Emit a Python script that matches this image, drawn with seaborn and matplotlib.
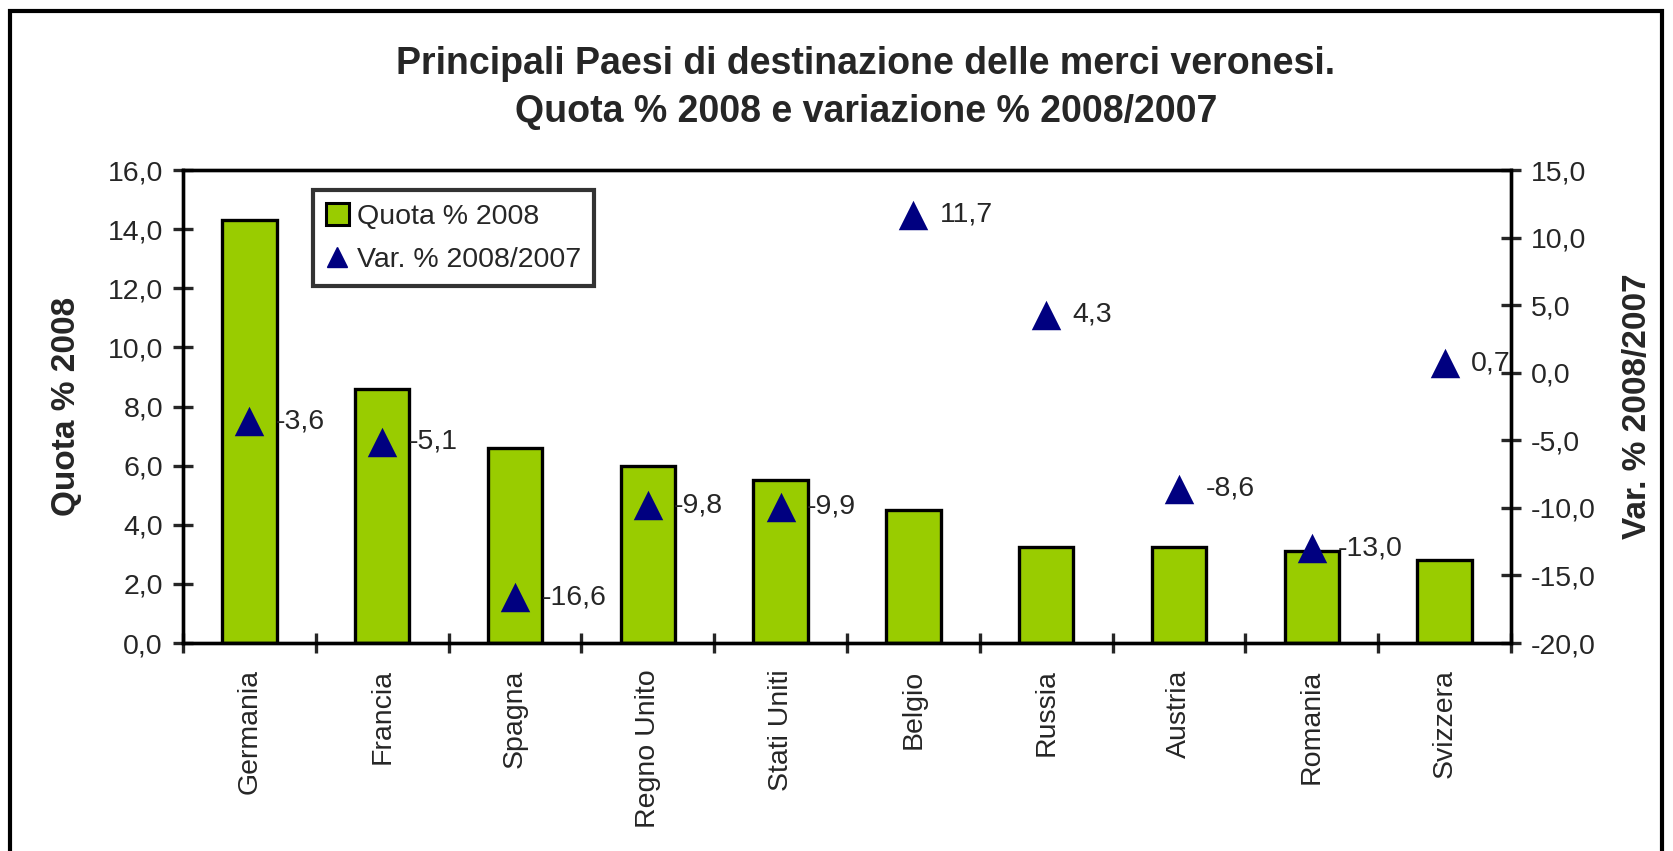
import numpy as np
import pandas as pd
import seaborn as sns
import matplotlib.pyplot as plt
from matplotlib.lines import Line2D
from matplotlib.patches import Patch, Rectangle
from matplotlib.ticker import FixedLocator

# Data
paesi = ['Germania', 'Francia', 'Spagna', 'Regno Unito', 'Stati Uniti',
         'Belgio', 'Russia', 'Austria', 'Romania', 'Svizzera']
quota_2008 = [14.3, 8.6, 6.6, 6.0, 5.5, 4.5, 3.25, 3.25, 3.1, 2.8]
var_2008_2007 = [-3.6, -5.1, -16.6, -9.8, -9.9, 11.7, 4.3, -8.6, -13.0, 0.7]
var_labels = ['-3,6', '-5,1', '-16,6', '-9,8', '-9,9', '11,7', '4,3', '-8,6', '-13,0', '0,7']

left_ticks = [0, 2, 4, 6, 8, 10, 12, 14, 16]
left_labels = ['0,0', '2,0', '4,0', '6,0', '8,0', '10,0', '12,0', '14,0', '16,0']
right_ticks = [-20, -15, -10, -5, 0, 5, 10, 15]
right_labels = ['-20,0', '-15,0', '-10,0', '-5,0', '0,0', '5,0', '10,0', '15,0']

df = pd.DataFrame({'Paese': paesi, 'Quota': quota_2008, 'Var': var_2008_2007})

sns.set_style('white')
plt.rcParams['font.family'] = ['Liberation Sans', 'DejaVu Sans']

verde = '#99CC00'
blu = '#000080'

fig = plt.figure(figsize=(16.73, 8.51), dpi=100)
ax = fig.add_axes([0.1094, 0.2444, 0.7938, 0.5558])

sns.barplot(data=df, x='Paese', y='Quota', color=verde, width=0.41,
            edgecolor='black', linewidth=2.4, saturation=1, ax=ax)
ax.set_xlim(-0.5, len(paesi) - 0.5)
ax.set_ylim(0, 16)
ax.yaxis.set_major_locator(FixedLocator(left_ticks))
ax.set_yticklabels(left_labels)
ax.set_xticks(np.arange(len(paesi)))
ax.set_xticklabels(paesi, rotation=90, va='top', ha='center')
ax.xaxis.set_minor_locator(FixedLocator(np.arange(len(paesi) + 1) - 0.5))
ax.tick_params(axis='x', which='major', length=0, pad=19, labelsize=20.5)
ax.tick_params(axis='x', which='minor', direction='inout', length=15, width=2.4,
               bottom=True)
ax.tick_params(axis='y', direction='inout', length=15, width=2.4, pad=7,
               labelsize=20.5, left=True)
ax.set_xlabel('')
ax.set_ylabel('Quota % 2008', fontsize=24, fontweight='bold')
ax.yaxis.set_label_coords(-0.076, 0.5)
for s in ax.spines.values():
    s.set_visible(True)
    s.set_color('black')
    s.set_linewidth(2.4)

ax2 = ax.twinx()
sns.scatterplot(x=np.arange(len(paesi)), y=var_2008_2007, marker='^', s=450,
                color=blu, edgecolor=blu, linewidth=0, ax=ax2, legend=False)
ax2.set_ylim(-20, 15)
ax2.yaxis.set_major_locator(FixedLocator(right_ticks))
ax2.set_yticklabels(right_labels)
ax2.tick_params(axis='y', direction='inout', length=15, width=2.4, pad=7,
                labelsize=20.5, right=True)
ax2.set_ylabel('Var. % 2008/2007', fontsize=24, fontweight='bold', rotation=90)
ax2.yaxis.set_label_coords(1.0836, 0.5)
for s in ax2.spines.values():
    s.set_color('black')
    s.set_linewidth(2.4)

for i, (v, lab) in enumerate(zip(var_2008_2007, var_labels)):
    ax2.annotate(lab, (i, v), xytext=(19, 0), textcoords='offset points',
                 ha='left', va='center', fontsize=20.5)

handles = [Patch(facecolor=verde, edgecolor='black', linewidth=2.2, label='Quota % 2008'),
           Line2D([], [], marker='^', color=blu, linestyle='none', markersize=15,
                  label='Var. % 2008/2007')]
leg = ax2.legend(handles=handles, loc='upper left',
                 bbox_to_anchor=(313 / 1673, 1 - 190 / 851),
                 bbox_transform=fig.transFigure, fontsize=20.5, frameon=True,
                 fancybox=False, handlelength=0.8, handleheight=0.8,
                 handletextpad=0.3, borderpad=0.45, labelspacing=0.6,
                 borderaxespad=0)
leg.get_frame().set_edgecolor('black')
leg.get_frame().set_linewidth(3)

fig.text(866 / 1673, 1 - 88 / 851,
         'Principali Paesi di destinazione delle merci veronesi.\n'
         'Quota % 2008 e variazione % 2008/2007',
         ha='center', va='center', fontsize=27, fontweight='bold', linespacing=1.4)

fig.add_artist(Rectangle((10 / 1673, -0.1), 1652 / 1673, 1.1 - 11 / 851,
                         transform=fig.transFigure, fill=False,
                         edgecolor='black', linewidth=3, clip_on=False))

fig.savefig('out.png', dpi=100)
